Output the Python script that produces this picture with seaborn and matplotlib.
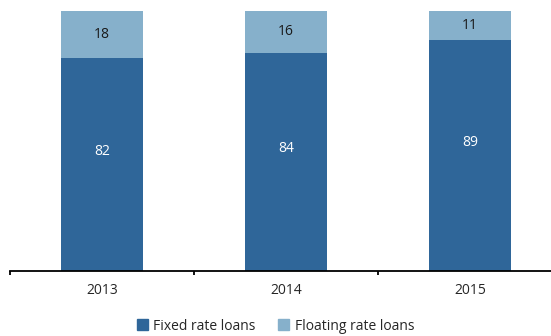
import matplotlib.pyplot as plt
import seaborn as sns
from matplotlib.patches import Patch

years = ["2013", "2014", "2015"]
fixed = [82, 84, 89]
floating = [18, 16, 11]

DARK = "#2f6699"
LIGHT = "#86b0cb"


def plot_loans():
    sns.set_style("white")
    plt.rcParams['font.family'] = ['Open Sans', 'DejaVu Sans']

    fig = plt.figure(figsize=(5.51, 3.36), dpi=100)
    ax = fig.add_axes([10 / 551, 65 / 336, 552 / 551, 260 / 336])

    totals = [a + b for a, b in zip(fixed, floating)]
    # stacked bars: draw totals first, then the fixed part over them
    sns.barplot(x=years, y=totals, color=LIGHT, width=0.45, saturation=1,
                linewidth=0, ax=ax)
    sns.barplot(x=years, y=fixed, color=DARK, width=0.45, saturation=1,
                linewidth=0, ax=ax)

    for i, (f, fl) in enumerate(zip(fixed, floating)):
        ax.text(i, f / 2 + 5, str(f), ha='center', va='center', color='white', fontsize=10)
        ax.text(i, f + fl / 2, str(fl), ha='center', va='center', color='#1a1a1a', fontsize=10)

    ax.set_xlim(-0.5, 2.5)
    ax.set_ylim(0, 100)
    ax.set_yticks([])
    for s in ['top', 'right', 'left']:
        ax.spines[s].set_visible(False)
    ax.spines['bottom'].set_color('black')
    ax.spines['bottom'].set_linewidth(1.3)

    ax.set_xticks([-0.5, 0.5, 1.5, 2.5], minor=False)
    ax.set_xticklabels([])
    ax.tick_params(axis='x', which='major', bottom=True, direction='out', length=3,
                   width=1.3, color='black')
    ax.set_xticks([0, 1, 2], minor=True)
    ax.set_xticklabels(years, minor=True, fontsize=10)
    ax.tick_params(axis='x', which='minor', bottom=True, length=0, pad=9)

    handles = [Patch(color=DARK, label='Fixed rate loans'),
               Patch(color=LIGHT, label='Floating rate loans')]
    fig.legend(handles=handles, loc='center', bbox_to_anchor=(0.5, 10 / 336), ncol=2,
               frameon=False, fontsize=10, handlelength=0.8, handleheight=0.8,
               handletextpad=0.4, columnspacing=1.6)

    fig.savefig('out.png', dpi=100)


if __name__ == "__main__":
    plot_loans()
